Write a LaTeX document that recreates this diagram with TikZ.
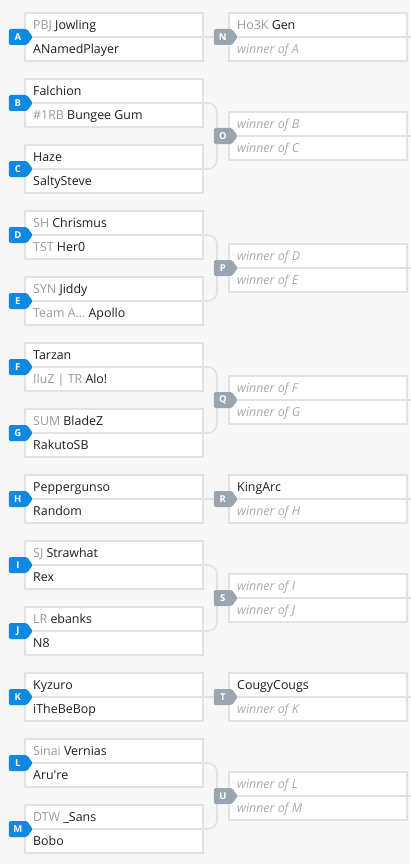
\documentclass[tikz,border=0pt]{standalone}
\usepackage{fontspec}
\setmainfont{Open Sans}
\usepackage{tikz}
\usetikzlibrary{shapes.symbols}
\usetikzlibrary{positioning}
\definecolor{pagebg}{HTML}{F7F7F7}
\definecolor{slotgray}{HTML}{E2E2E2}
\definecolor{seedgray}{HTML}{9A9A9A}
\definecolor{namedark}{HTML}{1E1E1E}
\definecolor{tbdgray}{HTML}{ABABAB}
\definecolor{badgeblue}{HTML}{0E89DF}
\definecolor{badgegray}{HTML}{9BA5B0}
\newcommand{\slotwidth}{178}
\newcommand{\seed}[1]{\textcolor{seedgray}{#1}}
\newcommand{\tbd}[1]{\textcolor{tbdgray}{\itshape winner of #1}}
% one match box: name, x of centre, y of midline, top entry, bottom entry
\newcommand{\matchbox}[5]{%
  \node[slot] (#1) at (#2,#3) {};
  \draw[slotline] (#1.west) -- (#1.east);
  \node[entry] (#1-top) at ([xshift=9pt,yshift=7.7pt]#1.west) {#4};
  \node[entry] (#1-bot) at ([xshift=9pt,yshift=-16.3pt]#1.west) {#5};
}
\tikzset{
  slot/.style={rectangle, draw=slotgray, line width=2pt, fill=white,
    minimum width=\slotwidth pt, minimum height=48pt, inner sep=0pt},
  slotline/.style={draw=slotgray, line width=2pt},
  link/.style={draw=slotgray, line width=1.6pt, rounded corners=9pt},
  entry/.style={anchor=base west, inner sep=0pt, text=namedark,
    font=\fontsize{12.4}{14}\selectfont},
  badge/.style={shape=signal, signal to=east, signal pointer angle=108,
    minimum width=24pt, minimum height=16pt, inner sep=0pt, text=white,
    rounded corners=1.5pt, font=\fontsize{9.5}{10}\selectfont\bfseries, anchor=east},
  leftbadge/.style={badge, fill=badgeblue, xshift=9pt},
  rightbadge/.style={badge, fill=badgegray, xshift=10pt},
}
\begin{document}
\begin{tikzpicture}[x=1pt, y=-1pt]
  % The frame:
  \fill[pagebg] (0,0) rectangle (410,864);
  \useasboundingbox (0,0) rectangle (410,864);
  % First round:
  \matchbox{A}{114}{37}{\seed{PBJ} Jowling}{ANamedPlayer}
  \matchbox{B}{114}{103}{Falchion}{\seed{\#1RB} Bungee Gum}
  \matchbox{C}{114}{169}{Haze}{SaltySteve}
  \matchbox{D}{114}{235}{\seed{SH} Chrismus}{\seed{TST} Her0}
  \matchbox{E}{114}{301}{\seed{SYN} Jiddy}{\seed{Team A…} Apollo}
  \matchbox{F}{114}{367}{Tarzan}{\seed{IluZ | TR} Alo!}
  \matchbox{G}{114}{433}{\seed{SUM} BladeZ}{RakutoSB}
  \matchbox{H}{114}{499}{Peppergunso}{Random}
  \matchbox{I}{114}{565}{\seed{SJ} Strawhat}{Rex}
  \matchbox{J}{114}{631}{\seed{LR} ebanks}{N8}
  \matchbox{K}{114}{697}{Kyzuro}{iTheBeBop}
  \matchbox{L}{114}{763}{\seed{Sinai} Vernias}{Aru\textquotesingle re}
  \matchbox{M}{114}{829}{\seed{DTW} \_Sans}{Bobo}
  % Second round:
  \matchbox{N}{318}{37}{\seed{Ho3K} Gen}{\tbd{A}}
  \matchbox{O}{318}{136}{\tbd{B}}{\tbd{C}}
  \matchbox{P}{318}{268}{\tbd{D}}{\tbd{E}}
  \matchbox{Q}{318}{400}{\tbd{F}}{\tbd{G}}
  \matchbox{R}{318}{499}{KingArc}{\tbd{H}}
  \matchbox{S}{318}{598}{\tbd{I}}{\tbd{J}}
  \matchbox{T}{318}{697}{CougyCougs}{\tbd{K}}
  \matchbox{U}{318}{796}{\tbd{L}}{\tbd{M}}
  % Connectors:
  \draw[link] (A.east) -- (N.west);
  \draw[link] (H.east) -- (R.west);
  \draw[link] (K.east) -- (T.west);
  \draw[link] (B.east) -- ++(13,0) |- (C.east);
  \draw[link] (D.east) -- ++(13,0) |- (E.east);
  \draw[link] (F.east) -- ++(13,0) |- (G.east);
  \draw[link] (I.east) -- ++(13,0) |- (J.east);
  \draw[link] (L.east) -- ++(13,0) |- (M.east);
  \foreach \m in {O,P,Q,S,U}
    \draw[link] (\m.west) -- ++(-13,0);
  \foreach \m in {N,O,P,Q,R,S,T,U}
    \draw[link] (\m.east) -- ++(4,0);
  % Badges:
  \foreach \m in {A,B,C,D,E,F,G,H,I,J,K,L,M}
    \node[leftbadge] (badge-\m) at (\m.west) {\m};
  \foreach \m in {N,O,P,Q,R,S,T,U}
    \node[rightbadge] (badge-\m) at (\m.west) {\m};
\end{tikzpicture}
\end{document}
